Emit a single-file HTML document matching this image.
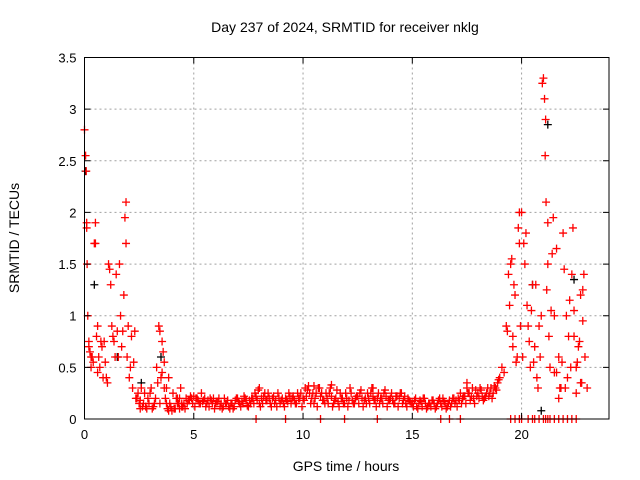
<!DOCTYPE html>
<html><head><meta charset="utf-8"><style>
body{margin:0;background:#fff;}
svg{display:block;font-family:"Liberation Sans",sans-serif;}
</style></head><body>
<svg id="chart" width="640" height="480" viewBox="0 0 640 480">
<rect width="640" height="480" fill="#fff"/>
<text x="345" y="32" font-size="14" text-anchor="middle">Day 237 of 2024, SRMTID for receiver nklg</text>
<text x="346" y="471" font-size="14" text-anchor="middle">GPS time / hours</text>
<text x="19" y="238" font-size="14" text-anchor="middle" transform="rotate(-90 19 238)">SRMTID / TECUs</text>
<g id="grid"></g>
<g id="marks"></g>
<g id="axes"></g>
</svg>
<script>
const mainTimes=[0.0,0.1,0.2,0.3,0.4,0.5,0.6,0.7,0.8,0.9,1.0,1.1,1.2,1.3,1.4,1.5,1.6,1.7,1.8,1.9,2.0,2.1,2.2,2.3,2.4,2.5,2.6,2.7,2.8,2.9,3.0,3.1,3.2,3.3,3.4,3.5,3.6,3.7,3.8,3.9,4.0,4.1,4.2,4.3,4.4,4.5,4.6,4.7,4.8,4.9,5.0,5.1,5.2,5.3,5.4,5.5,5.6,5.7,5.8,5.9,6.0,6.1,6.2,6.3,6.4,6.5,6.6,6.7,6.8,6.9,7.0,7.1,7.2,7.3,7.4,7.5,7.6,7.7,7.8,7.9,8.0,8.1,8.2,8.3,8.4,8.5,8.6,8.7,8.8,8.9,9.0,9.1,9.2,9.3,9.4,9.5,9.6,9.7,9.8,9.9,10.0,10.1,10.2,10.3,10.4,10.5,10.6,10.7,10.8,10.9,11.0,11.1,11.2,11.3,11.4,11.5,11.6,11.7,11.8,11.9,12.0,12.1,12.2,12.3,12.4,12.5,12.6,12.7,12.8,12.9,13.0,13.1,13.2,13.3,13.4,13.5,13.6,13.7,13.8,13.9,14.0,14.1,14.2,14.3,14.4,14.5,14.6,14.7,14.8,14.9,15.0,15.1,15.2,15.3,15.4,15.5,15.6,15.7,15.8,15.9,16.0,16.1,16.2,16.3,16.4,16.5,16.6,16.7,16.8,16.9,17.0,17.1,17.2,17.3,17.4,17.5,17.6,17.7,17.8,17.9,18.0,18.1,18.2,18.3,18.4,18.5,18.6,18.7,18.8,18.9,19.0,19.1,19.2,19.3,19.4,19.5,19.6,19.7,19.8,19.9,20.0,20.1,20.2,20.3,20.4,20.5,20.6,20.7,20.8,20.9,21.0,21.1,21.2,21.3,21.4,21.5,21.6,21.7,21.8,21.9,22.0,22.1,22.2,22.3,22.4,22.5,22.6,22.7,22.8,22.9,23.0];
const mainValues=[2.8,1.9,0.7,0.6,0.55,1.7,0.9,0.5,0.7,0.75,0.4,1.5,1.3,0.8,0.6,0.85,1.5,0.7,1.2,2.1,0.9,0.5,0.3,0.85,0.2,0.15,0.3,0.15,0.12,0.2,0.25,0.1,0.15,0.5,0.9,0.4,0.65,0.2,0.1,0.15,0.08,0.1,0.2,0.15,0.3,0.12,0.1,0.15,0.18,0.2,0.22,0.2,0.18,0.15,0.17,0.2,0.15,0.12,0.18,0.2,0.15,0.17,0.12,0.1,0.2,0.15,0.12,0.15,0.1,0.18,0.2,0.15,0.17,0.22,0.18,0.12,0.15,0.2,0.25,0.18,0.15,0.2,0.22,0.18,0.25,0.15,0.2,0.15,0.12,0.2,0.18,0.15,0.2,0.17,0.22,0.2,0.18,0.15,0.2,0.25,0.2,0.3,0.28,0.25,0.2,0.15,0.25,0.3,0.22,0.18,0.15,0.2,0.25,0.22,0.15,0.2,0.17,0.25,0.2,0.15,0.2,0.18,0.25,0.15,0.2,0.22,0.25,0.2,0.18,0.15,0.2,0.25,0.22,0.18,0.2,0.15,0.2,0.25,0.22,0.18,0.2,0.18,0.15,0.22,0.2,0.25,0.18,0.15,0.2,0.17,0.15,0.18,0.12,0.15,0.17,0.2,0.15,0.12,0.15,0.18,0.15,0.12,0.18,0.15,0.2,0.15,0.12,0.18,0.15,0.2,0.18,0.2,0.25,0.2,0.22,0.3,0.25,0.22,0.2,0.28,0.25,0.3,0.22,0.2,0.25,0.22,0.3,0.25,0.3,0.35,0.4,0.5,0.45,0.9,1.4,1.5,0.8,1.2,0.6,1.7,2.0,1.7,1.8,0.9,0.5,1.3,0.7,0.4,0.9,1.0,3.3,2.9,1.9,0.5,1.6,1.0,0.45,0.2,0.3,1.8,0.3,0.4,1.15,1.4,0.8,0.5,0.7,0.35,1.25,0.6,0.3];
const baseTimes=[2.55,2.65,2.75,2.85,2.95,3.05,3.15,3.25,3.35,3.45,3.55,3.65,3.75,3.85,3.95,4.05,4.15,4.25,4.35,4.45,4.55,4.65,4.75,4.85,4.95,5.05,5.15,5.25,5.35,5.45,5.55,5.65,5.75,5.85,5.95,6.05,6.15,6.25,6.35,6.45,6.55,6.65,6.75,6.85,6.95,7.05,7.15,7.25,7.35,7.45,7.55,7.65,7.75,7.85,7.95,8.05,8.15,8.25,8.35,8.45,8.55,8.65,8.75,8.85,8.95,9.05,9.15,9.25,9.35,9.45,9.55,9.65,9.75,9.85,9.95,10.05,10.15,10.25,10.35,10.45,10.55,10.65,10.75,10.85,10.95,11.05,11.15,11.25,11.35,11.45,11.55,11.65,11.75,11.85,11.95,12.05,12.15,12.25,12.35,12.45,12.55,12.65,12.75,12.85,12.95,13.05,13.15,13.25,13.35,13.45,13.55,13.65,13.75,13.85,13.95,14.05,14.15,14.25,14.35,14.45,14.55,14.65,14.75,14.85,14.95,15.05,15.15,15.25,15.35,15.45,15.55,15.65,15.75,15.85,15.95,16.05,16.15,16.25,16.35,16.45,16.55,16.65,16.75,16.85,16.95,17.05,17.15,17.25,17.35,17.45,17.55,17.65,17.75,17.85,17.95,18.05,18.15,18.25,18.35,18.45,18.55,18.65,18.75,18.85,18.95];
const baseValues=[0.18,0.12,0.25,0.1,0.15,0.3,0.12,0.2,0.35,0.15,0.45,0.3,0.15,0.08,0.12,0.25,0.1,0.15,0.2,0.12,0.15,0.2,0.18,0.22,0.15,0.12,0.2,0.15,0.25,0.18,0.12,0.18,0.2,0.15,0.1,0.17,0.2,0.15,0.12,0.15,0.18,0.1,0.15,0.12,0.2,0.17,0.12,0.15,0.2,0.13,0.18,0.2,0.15,0.22,0.28,0.12,0.15,0.25,0.18,0.2,0.12,0.22,0.18,0.25,0.15,0.2,0.12,0.18,0.25,0.15,0.22,0.15,0.25,0.2,0.12,0.18,0.22,0.32,0.15,0.25,0.2,0.12,0.3,0.25,0.18,0.25,0.15,0.3,0.12,0.18,0.28,0.12,0.2,0.15,0.25,0.12,0.3,0.18,0.15,0.22,0.15,0.28,0.12,0.2,0.25,0.15,0.3,0.18,0.12,0.25,0.2,0.15,0.28,0.12,0.18,0.25,0.15,0.22,0.12,0.25,0.15,0.22,0.12,0.18,0.15,0.12,0.2,0.1,0.18,0.12,0.2,0.1,0.15,0.12,0.18,0.1,0.15,0.2,0.12,0.17,0.1,0.15,0.12,0.2,0.15,0.12,0.18,0.15,0.22,0.15,0.25,0.18,0.3,0.15,0.22,0.2,0.28,0.18,0.22,0.3,0.25,0.2,0.32,0.28,0.38];
const extraTimes=[0.05,0.08,0.1,0.12,0.15,0.2,0.25,0.3,0.35,0.45,0.5,0.55,0.6,0.65,0.75,0.85,0.95,1.05,1.15,1.25,1.35,1.45,1.55,1.65,1.75,1.85,1.9,1.95,2.05,2.15,2.25,2.35,2.45,2.55,3.45,3.55,3.65,3.75,3.85,4.25,4.35,4.45,8.0,10.5,11.3,13.2,17.5,19.35,19.45,19.55,19.6,19.65,19.75,19.85,19.9,19.95,20.05,20.15,20.25,20.35,20.45,20.55,20.65,20.75,20.85,20.95,21.05,21.08,21.12,21.15,21.2,21.25,21.35,21.45,21.5,21.6,21.7,21.75,21.85,21.95,22.05,22.15,22.25,22.35,22.4,22.5,22.55,22.65,22.7,22.75,22.8,22.85];
const extraValues=[2.55,2.4,1.85,1.5,1.0,0.75,0.65,0.5,0.6,1.7,1.9,0.8,0.45,0.6,0.75,0.4,0.55,0.35,1.45,0.9,0.75,1.4,0.6,1.0,0.85,1.95,1.7,0.6,0.4,0.8,0.55,0.2,0.25,0.1,0.85,0.75,0.55,0.3,0.4,0.2,0.1,0.15,0.3,0.32,0.33,0.3,0.35,0.85,1.1,1.55,0.7,1.3,0.55,1.85,2.0,0.9,0.6,1.5,1.1,0.75,1.05,0.55,1.3,0.3,0.6,3.25,3.1,2.55,2.1,1.25,1.5,0.8,1.05,1.95,0.45,1.65,0.6,0.3,0.55,1.45,1.0,0.8,0.5,1.85,1.05,0.25,0.55,0.75,1.2,0.35,0.95,1.4];
const zeroTimes=[7.85,9.2,10.8,11.9,13.4,16.3,16.7,17.2,19.5,19.7,19.9,20.0,20.3,20.5,20.6,20.8,21.0,21.1,21.2,21.3,21.5,21.7,21.9,22.1,22.3,22.5];
const blackTimes=[0.05,0.45,1.5,2.6,3.5,20.5,20.9,21.2,22.4];
const blackValues=[2.4,1.3,0.6,0.35,0.6,1.3,0.08,2.85,1.35];
const xTicks=[0,5,10,15,20];
const yTicks=[0,0.5,1,1.5,2,2.5,3,3.5];
const yTickLabels=["0","0.5","1","1.5","2","2.5","3","3.5"];

const L=84.5,R=609,T=57.5,B=419;
const xs=t=>L+(t/24)*(R-L);
const ys=v=>B-(v/3.5)*(B-T);
const NS="http://www.w3.org/2000/svg";
const grid=document.getElementById('grid'),marks=document.getElementById('marks'),axes=document.getElementById('axes');
function mk(tag,attrs,parent){const e=document.createElementNS(NS,tag);for(const k in attrs)e.setAttribute(k,attrs[k]);parent.appendChild(e);return e;}

xTicks.forEach(t=>{
  const x=xs(t);
  if(t>0){const g=mk('line',{x1:x,x2:x,y1:T,y2:B,stroke:'#a0a0a0','stroke-dasharray':'2,3'},grid);
  
  }
  const tk=mk('path',{d:`M${x},${B}v-6M${x},${T}v6`,stroke:'#000'},axes);
  
  
  const lb=mk('text',{x:x,y:B+20,'font-size':13,'text-anchor':'middle'},axes);lb.textContent=t;
  
  
});
yTicks.forEach((v,i)=>{
  const y=ys(v);
  if(v>0&&v<3.5){const g=mk('line',{x1:L,x2:R,y1:y,y2:y,stroke:'#a0a0a0','stroke-dasharray':'2,3'},grid);
  
  }
  const tk=mk('path',{d:`M${L},${y}h6M${R},${y}h-6`,stroke:'#000'},axes);
  
  
  const lb=mk('text',{x:L-8,y:y+5,'font-size':13,'text-anchor':'end'},axes);lb.textContent=yTickLabels[i];
  
  
});
const frame=mk('rect',{x:L,y:T,width:R-L,height:B-T,fill:'none',stroke:'#000'},axes);



function cross(t,v,color){
  const x=xs(t),y=ys(v);
  const p=mk('path',{d:`M${x-4},${y}h8M${x},${y-4}v8`,stroke:color,'stroke-width':1.3},marks);
  
  
}
blackTimes.forEach((t,i)=>cross(t,blackValues[i],'#000'));
mainTimes.forEach((t,i)=>cross(t,mainValues[i],'#ff0000'));
baseTimes.forEach((t,i)=>cross(t,baseValues[i],'#ff0000'));
extraTimes.forEach((t,i)=>cross(t,extraValues[i],'#ff0000'));
zeroTimes.forEach(t=>cross(t,0,'#ff0000'));
</script>
</body></html>
